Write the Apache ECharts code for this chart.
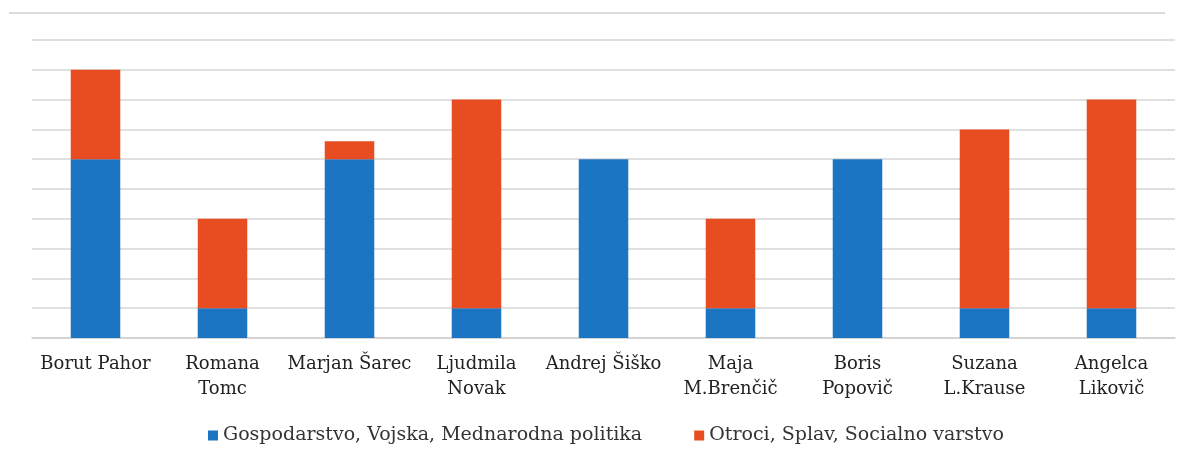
<!DOCTYPE html>
<html>
<head>
<meta charset="utf-8">
<script src="https://cdn.jsdelivr.net/npm/echarts@6/dist/echarts.min.js"></script>
<style>
  html, body { margin: 0; padding: 0; background: #fff; }
  #chart { width: 1181px; height: 450px; }
</style>
</head>
<body>
<div id="chart"></div>
<script>
// candidates and topic counts
const categories = ['Borut Pahor', 'Romana\nTomc', 'Marjan Šarec', 'Ljudmila\nNovak', 'Andrej Šiško', 'Maja\nM.Brenčič', 'Boris\nPopovič', 'Suzana\nL.Krause', 'Angelca\nLikovič'];
const seriesNames = ['Gospodarstvo, Vojska, Mednarodna politika', 'Otroci, Splav, Socialno varstvo'];
const economy = [6, 1, 6, 1, 6, 1, 6, 1, 1];
const social = [3, 3, 0.6, 7, 0, 3, 0, 6, 7];

const chart = echarts.init(document.getElementById('chart'));
const font = '"DejaVu Serif", "Liberation Serif", serif';

chart.setOption({
    animation: false,
    textStyle: { fontFamily: font },
    color: ['#1b75c2', '#e84d21'],
    grid: { left: 32, right: 6, top: 40, bottom: 112 },
    legend: {
        bottom: 0,
        left: 203,
        itemWidth: 10,
        itemHeight: 10,
        itemGap: 52,
        icon: 'rect',
        textStyle: { fontFamily: font, fontSize: 19, color: '#333' },
        data: seriesNames
    },
    graphic: [{
        type: 'line',
        shape: { x1: 9, y1: 13, x2: 1165, y2: 13 },
        style: { stroke: '#d0d0d0', lineWidth: 1.5 }
    }],
    xAxis: {
        type: 'category',
        data: categories,
        axisTick: { show: false },
        axisLine: { lineStyle: { color: '#d0d0d0', width: 1.5 } },
        axisLabel: { fontFamily: font, fontSize: 18, color: '#222', lineHeight: 25, margin: 14, interval: 0 }
    },
    yAxis: {
        type: 'value',
        min: 0,
        max: 10,
        interval: 1,
        axisLabel: { show: false },
        axisLine: { show: false },
        axisTick: { show: false },
        splitLine: { lineStyle: { color: '#d6d6d6', width: 1.5 } }
    },
    series: [
        { name: seriesNames[0], type: 'bar', stack: 'all', barWidth: '39%', data: economy },
        { name: seriesNames[1], type: 'bar', stack: 'all', barWidth: '39%', data: social }
    ]
});
</script>
</body>
</html>
